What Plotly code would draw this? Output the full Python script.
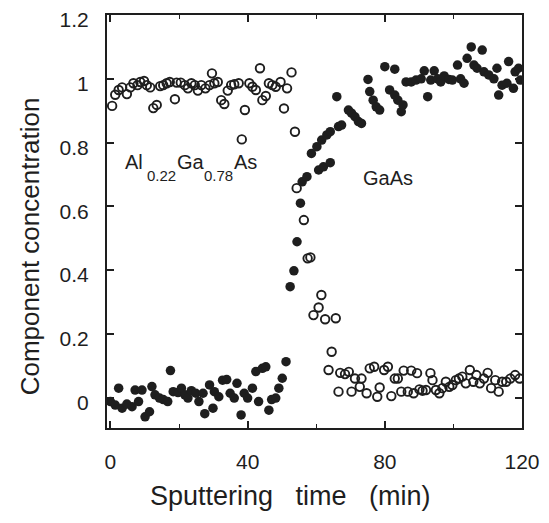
import plotly.graph_objects as go

# Open circles: Al-containing component (drops after ~53 min)
open_x = [0.5, 1.4, 2.4, 3.4, 4.8, 5.8, 6.7, 7.9, 8.7, 9.8, 10.6, 11.6, 12.5, 13.5, 14.5, 15.4, 16.4, 17.3,
          18.8, 19.3, 20.5, 21.7, 22.6, 23.6, 24.6, 25.5, 26.5, 27.7, 28.9, 29.6, 30.3, 31.3, 32.3, 33.2,
          34.2, 35.2, 36.1, 37.4, 38.3, 39.2, 40.5, 41.4, 42.4, 43.6, 44.3, 45.3, 46.2, 47.2, 48.2, 49.6,
          50.6, 51.5, 52.8, 53.8, 54.3, 56.4, 57.5, 58.3, 59.2, 60.7, 61.5, 62.6, 63.6, 64.5, 65.7, 66.5,
          67.0, 68.4, 69.5, 70.3, 71.3, 72.7, 73.2, 74.7, 75.6, 76.9, 77.8, 78.5, 79.8, 80.9, 81.9, 82.9,
          83.8, 84.8, 85.5, 86.7, 87.7, 88.4, 89.4, 90.1, 91.0, 92.0, 93.3, 93.9, 94.9, 95.9, 96.8, 97.8,
          98.8, 99.7, 100.7, 101.6, 102.6, 103.6, 104.8, 105.8, 106.7, 107.7, 108.9, 110.0, 111.0, 112.2,
          113.2, 114.2, 115.4, 116.6, 118.0, 119.3]
open_y = [0.915, 0.95, 0.965, 0.973, 0.952, 0.973, 0.986, 0.98, 0.99, 0.993, 0.98, 0.973, 0.908, 0.918, 0.977,
          0.98, 0.986, 0.99, 0.936, 0.988, 0.988, 0.98, 0.97, 0.986, 0.98, 0.963, 0.98, 0.97, 0.98, 1.017,
          0.986, 0.99, 0.933, 0.921, 0.963, 0.98, 0.983, 0.986, 0.81, 0.902, 0.986, 0.975, 0.965, 1.033,
          0.933, 0.946, 0.986, 0.98, 0.975, 0.99, 0.907, 0.97, 1.02, 0.834, 0.657, 0.557, 0.437, 0.44,
          0.259, 0.283, 0.322, 0.246, 0.087, 0.144, 0.249, 0.019, 0.078, 0.074, 0.081, 0.019, 0.06, 0.034,
          0.06, 0.014, 0.092, 0.097, 0.003, 0.032, 0.087, 0.097, 0.005, 0.06, 0.06, 0.019, 0.085, 0.019,
          0.085, 0.014, 0.077, 0.026, 0.022, 0.024, 0.077, 0.055, 0.024, 0.014, 0.03, 0.05, 0.034, 0.04,
          0.055, 0.06, 0.066, 0.045, 0.087, 0.05, 0.071, 0.045, 0.06, 0.078, 0.03, 0.055, 0.019, 0.05,
          0.05, 0.06, 0.071, 0.06]

# Filled circles: GaAs component (rises after ~52 min)
filled_x = [0.0, 1.4, 2.4, 3.4, 4.8, 6.3, 7.2, 8.2, 9.2, 10.1, 11.4, 12.1, 13.0, 14.3, 15.4, 16.7, 17.5, 18.3,
            19.7, 20.7, 21.7, 22.6, 23.6, 24.9, 25.8, 27.0, 27.5, 28.9, 29.9, 30.3, 31.6, 32.7, 33.9, 34.9,
            36.1, 36.9, 38.1, 39.0, 40.0, 41.4, 42.4, 43.2, 44.3, 45.3, 46.2, 47.0, 48.2, 49.1, 50.1, 51.2,
            52.4, 53.5, 54.4, 55.4, 55.9, 57.3, 58.6, 60.2, 60.7, 61.6, 62.1, 63.1, 64.1, 64.1, 66.0, 66.5,
            67.4, 69.4, 70.3, 71.3, 72.3, 73.2, 75.1, 75.6, 76.6, 77.5, 78.5, 80.0, 81.4, 82.9, 82.9, 83.8,
            84.8, 85.3, 86.2, 87.7, 89.1, 90.6, 91.5, 92.5, 93.4, 94.4, 95.4, 96.3, 97.3, 98.7, 99.7, 101.2,
            102.1, 103.1, 104.0, 105.2, 106.0, 106.9, 108.4, 108.9, 110.3, 111.8, 112.7, 113.2, 114.2, 115.6,
            116.1, 117.5, 118.0, 119.0, 119.5]
filled_y = [-0.012, -0.023, 0.03, -0.033, -0.02, -0.028, 0.024, -0.012, 0.024, -0.06, -0.044, 0.035, 0.009,
            -0.001, -0.006, -0.012, 0.085, 0.019, 0.016, 0.03, 0.009, -0.001, 0.022, 0.014, -0.012, 0.014,
            -0.05, 0.04, -0.033, 0.019, 0.003, 0.055, 0.057, 0.014, -0.001, 0.045, -0.054, 0.014, -0.001,
            0.03, 0.082, -0.012, 0.092, 0.097, -0.039, -0.006, -0.001, 0.03, 0.061, 0.113, 0.348, 0.398,
            0.489, 0.61, 0.677, 0.693, 0.766, 0.787, 0.714, 0.808, 0.724, 0.824, 0.834, 0.737, 0.944, 0.85,
            0.855, 0.902, 0.892, 0.881, 0.866, 0.86, 0.998, 0.96, 0.933, 0.912, 0.902, 1.038, 0.965, 1.03,
            0.949, 0.933, 0.897, 0.918, 0.99, 0.99, 0.996, 1.0, 1.025, 0.944, 0.996, 1.025, 1.0, 0.99, 1.009,
            0.998, 0.996, 1.043, 1.0, 0.986, 1.064, 1.1, 1.043, 1.033, 1.09, 1.022, 1.012, 1.0, 1.033, 0.949,
            0.98, 0.986, 1.054, 0.97, 1.022, 1.033, 0.996]

x_ticks = [0, 40, 80, 120]
y_ticks = [0, 0.2, 0.4, 0.6, 0.8, 1.0, 1.2]
y_tick_text = ["0", "0.2", "0.4", "0.6", "0.8", "1", "1.2"]

INK = "#1e1e1e"
FONT = "Liberation Sans, Arial, sans-serif"

fig = go.Figure()
fig.add_trace(go.Scatter(x=open_x, y=open_y, mode="markers",
                         marker=dict(symbol="circle-open", size=8.5, color=INK, line=dict(width=1.9, color=INK)),
                         showlegend=False))
fig.add_trace(go.Scatter(x=filled_x, y=filled_y, mode="markers",
                         marker=dict(symbol="circle", size=9.5, color=INK, line=dict(width=0)),
                         showlegend=False))

# Composition labels
labels = [
    ("Al", 7.0, 0.74, 20),
    ("0.22", 15.0, 0.696, 15),
    ("Ga", 23.4, 0.74, 20),
    ("0.78", 31.4, 0.696, 15),
    ("As", 39.4, 0.74, 20),
    ("GaAs", 80.8, 0.69, 20),
]
for txt, xx, yy, sz in labels:
    fig.add_annotation(x=xx, y=yy, xref="x", yref="y", text=txt, showarrow=False,
                       xanchor="center", yanchor="middle", font=dict(size=sz, color=INK, family=FONT))

# Axis titles
fig.add_annotation(x=-0.1855, y=0.44, xref="paper", yref="paper", text="Component concentration",
                   textangle=-90, showarrow=False, xanchor="center", yanchor="middle",
                   font=dict(size=26, color=INK, family=FONT))
fig.add_annotation(x=0.443, y=-0.165, xref="paper", yref="paper", text="Sputtering   time   (min)",
                   showarrow=False, xanchor="center", yanchor="middle",
                   font=dict(size=27, color=INK, family=FONT))

axis_common = dict(showline=True, linecolor=INK, linewidth=2, mirror="allticks", ticks="inside",
                   tickcolor=INK, tickwidth=1.5, showgrid=False, zeroline=False, automargin=False,
                   ticklabeloverflow="allow",
                   tickfont=dict(size=21, color=INK, family=FONT))

fig.update_xaxes(range=[-1, 120], tickvals=x_ticks, ticklen=7, ticklabelstandoff=14,
                 minor=dict(dtick=20, tick0=0, ticks="inside", ticklen=4, tickcolor=INK, tickwidth=1.2),
                 **axis_common)
fig.update_yaxes(range=[-0.095, 1.2], tickvals=y_ticks, ticktext=y_tick_text, ticklen=7,
                 ticklabelstandoff=12, ticklabelshift=5, **axis_common)

# page body has an 8px default margin; size/margins compensate so the plot lands where the reference's does
fig.update_layout(width=541, height=515, margin=dict(l=99, r=27, t=7, b=95),
                  plot_bgcolor="white", paper_bgcolor="white",
                  font=dict(family=FONT, color=INK))

fig.write_html("out.html")
